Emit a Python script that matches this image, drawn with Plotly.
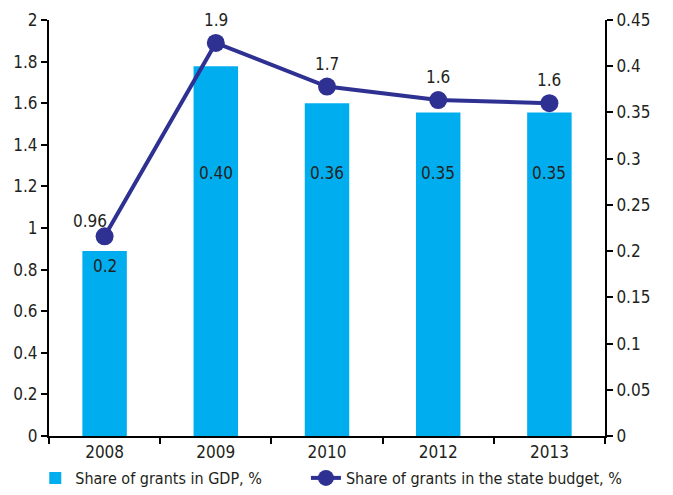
import plotly.graph_objects as go

years = ["2008", "2009", "2010", "2012", "2013"]
gdp_share = [0.20, 0.40, 0.36, 0.35, 0.35]
gdp_labels = ["0.2", "0.40", "0.36", "0.35", "0.35"]
budget_share = [0.96, 1.89, 1.68, 1.615, 1.60]
budget_labels = ["0.96", "1.9", "1.7", "1.6", "1.6"]

FONT = "DejaVu Sans Condensed, DejaVu Sans, sans-serif"
TXT = "#231F20"
BAR = "#00AEEF"
LINE = "#2E3192"

W, H = 665, 487  # page has an 8px body margin

fig = go.Figure()
fig.add_trace(go.Bar(
    x=years, y=gdp_share, name="Share of grants in GDP, %",
    marker=dict(color=BAR, line=dict(width=0)), yaxis="y", legend="legend",
))
fig.add_trace(go.Scatter(
    x=years, y=budget_share, name="Share of grants in the state budget, %",
    mode="lines+markers", yaxis="y2", cliponaxis=False, legend="legend2",
    line=dict(color=LINE, width=4), marker=dict(color=LINE, size=18),
))

for i, (v, lab) in enumerate(zip(gdp_share, gdp_labels)):
    fig.add_annotation(x=i, y=min(v - 0.016, 0.285), xref="x", yref="y",
                       text=lab, showarrow=False,
                       font=dict(family=FONT, size=17, color=TXT))

for i, (v, lab) in enumerate(zip(budget_share, budget_labels)):
    first = i == 0
    fig.add_annotation(x=i, y=v, xref="x", yref="y2", text=lab, showarrow=False,
                       xshift=-15 if first else 0, yshift=15 if first else 23,
                       font=dict(family=FONT, size=17, color=TXT))

axis_common = dict(showgrid=False, zeroline=False, showline=True, linecolor="#000",
                   linewidth=2, ticks="outside", ticklen=6, tickwidth=1.5, tickcolor="#000",
                   tickfont=dict(family=FONT, size=17, color=TXT))

legend_common = dict(orientation="h", xref="container", yref="container",
                     y=0.0, xanchor="left", yanchor="bottom",
                     font=dict(family=FONT, size=16, color=TXT),
                     itemwidth=30, bgcolor="rgba(0,0,0,0)")

fig.update_layout(
    width=W, height=H,
    margin=dict(l=41, r=68, t=12, b=59, autoexpand=False),
    paper_bgcolor="white", plot_bgcolor="white",
    bargap=0.6,
    font=dict(family=FONT, size=17, color=TXT),
    xaxis=dict(type="category", tickson="boundaries", range=[-0.5, 4.5], **axis_common),
    yaxis=dict(side="right", range=[0, 0.45], dtick=0.05, **axis_common),
    yaxis2=dict(side="left", overlaying="y", range=[0, 2], dtick=0.2, **axis_common),
    legend=dict(x=0.041, **legend_common),
    legend2=dict(x=0.448, **legend_common),
    showlegend=True,
)

fig.write_html("out.html")
